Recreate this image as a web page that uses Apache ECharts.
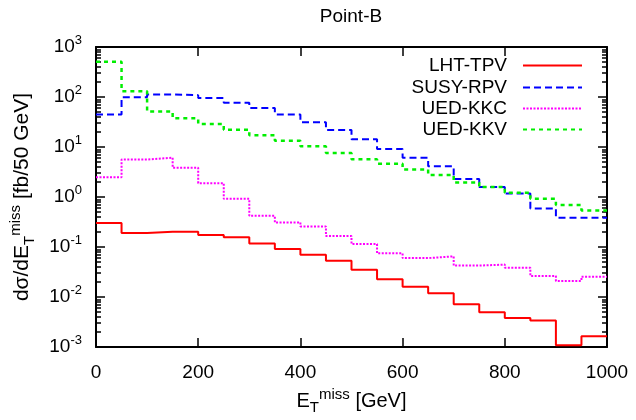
<!DOCTYPE html>
<html>
<head>
<meta charset="utf-8">
<script src="https://cdn.jsdelivr.net/npm/echarts@6/dist/echarts.min.js"></script>
<style>
  html, body { margin: 0; padding: 0; background: #fff; }
  #chart { width: 636px; height: 420px; }
</style>
</head>
<body>
<div id="chart"></div>
<script>
// bin lower edges [GeV], 50 GeV bins
const binLow = [0, 50, 100, 150, 200, 250, 300, 350, 400, 450, 500, 550, 600, 650, 700, 750, 800, 850, 900, 950]
const xMax = 1000

// dsigma/dEt [fb/50 GeV]
const lhtTpv = [0.303, 0.19, 0.202, 0.202, 0.174, 0.157, 0.118, 0.0915, 0.0698, 0.0533, 0.035, 0.0226, 0.016, 0.0119, 0.00713, 0.00497, 0.0038, 0.00337, 0.00109, 0.00164]
const susyRpv = [44.8, 99, 112, 109, 96, 77, 60.5, 44.8, 31.3, 21.8, 14.3, 9.1, 6.1, 4.1, 2.3, 1.58, 1.17, 0.59, 0.385, 0.385]
const uedKkc = [2.48, 5.6, 6.1, 3.83, 1.89, 0.92, 0.42, 0.31, 0.257, 0.166, 0.115, 0.075, 0.06, 0.065, 0.0425, 0.0445, 0.0383, 0.0263, 0.021, 0.0255]
const uedKkv = [509, 130, 51.3, 37.4, 29, 22.2, 17.2, 13.3, 10.3, 7.6, 5.7, 4.65, 3.55, 2.75, 1.95, 1.58, 1.21, 0.92, 0.69, 0.54]

const seriesNames = ['LHT-TPV', 'SUSY-RPV', 'UED-KKC', 'UED-KKV']
const xTicks = [0, 200, 400, 600, 800, 1000]

const FONT = '"Liberation Sans", Arial, Helvetica, sans-serif'

// histogram steps: left edge of each bin + closing point at the last edge
function steps(vals) {
  const pts = binLow.map((x, i) => [x, vals[i]])
  pts.push([xMax, vals[vals.length - 1]])
  return pts
}

// minor log ticks 2..9 in each decade (as log10 values)
const minorTicks = []
for (let e = -3; e < 3; e++) {
  for (let m = 2; m <= 9; m++) minorTicks.push(e + Math.log10(m))
}

function supRich(base, small) {
  return {
    b: { fontSize: base, fontFamily: FONT, color: '#000', lineHeight: base + 8, verticalAlign: 'middle' },
    s: { fontSize: small, fontFamily: FONT, color: '#000', lineHeight: 12, verticalAlign: 'top' },
    t: { fontSize: small, fontFamily: FONT, color: '#000', lineHeight: 12, verticalAlign: 'bottom' },
  }
}

const chart = echarts.init(document.getElementById('chart'), null, { renderer: 'canvas' })

function mkSeries(name, vals, color, type, width) {
  return {
    name,
    type: 'line',
    step: 'end',
    data: steps(vals),
    symbol: 'none',
    xAxisIndex: 0,
    yAxisIndex: 0,
    lineStyle: { color, width, type },
    itemStyle: { color },
    emphasis: { disabled: true },
  }
}

const styles = [
  ['#ff0000', 'solid', 2],
  ['#0000ff', [7, 4], 2],
  ['#ff00ff', [2, 1.5], 2],
  ['#00ee00', [4, 4], 2.5],
]
const legendTops = [56, 78, 99, 120]

const frameLine = { onZero: false, lineStyle: { color: '#000', width: 2 } }
const majorTick = { inside: true, length: 9, lineStyle: { color: '#000', width: 1.5 } }

chart.setOption({
  animation: false,
  title: {
    text: 'Point-B',
    left: 351,
    top: 7,
    padding: 0,
    textAlign: 'center',
    textStyle: { fontFamily: FONT, fontSize: 19, fontWeight: 'normal', color: '#000' },
  },
  legend: seriesNames.map((n, i) => ({
    data: [n],
    right: 53,
    top: legendTops[i],
    align: 'right',
    itemWidth: 59,
    itemHeight: 14,
    padding: 0,
    selectedMode: false,
    itemStyle: { opacity: 0 },
    textStyle: { fontFamily: FONT, fontSize: 19, color: '#000', padding: [0, 11, 0, 0] },
  })),
  grid: { left: 95, right: 29, top: 47, bottom: 66 },
  xAxis: [
    {
      type: 'value', position: 'bottom', min: 0, max: xMax, interval: 200,
      name: '{b|E}{t|T}{s|miss}{b| [GeV]}',
      nameLocation: 'middle', nameGap: 40,
      nameTextStyle: { rich: supRich(20, 15) },
      axisLine: frameLine,
      axisTick: majorTick,
      axisLabel: { margin: 16, fontFamily: FONT, fontSize: 19, color: '#000', formatter: v => xTicks.includes(v) ? String(v) : '' },
      splitLine: { show: false },
    },
    {
      type: 'value', position: 'top', min: 0, max: xMax, interval: 200,
      axisLine: frameLine,
      axisTick: majorTick,
      axisLabel: { show: false },
      splitLine: { show: false },
    },
  ],
  yAxis: [
    {
      type: 'log', logBase: 10, min: 0.001, max: 1000, splitNumber: 6, position: 'left',
      name: '{b|dσ/dE}{t|T}{s|miss}{b| [fb/50 GeV]}',
      nameLocation: 'middle', nameRotate: 90, nameGap: 59,
      nameTextStyle: { rich: supRich(21, 15) },
      axisLine: frameLine,
      axisTick: majorTick,
      axisLabel: {
        margin: 14,
        formatter: v => '{b|10}{s|' + Math.round(Math.log10(v)) + '}',
        rich: supRich(19, 13),
      },
      splitLine: { show: false },
    },
    {
      type: 'value', min: -3, max: 3, position: 'left',
      axisLine: { show: false, onZero: false },
      axisTick: { inside: true, length: 5, customValues: minorTicks, lineStyle: { color: '#000', width: 1.5 } },
      axisLabel: { show: false },
      splitLine: { show: false },
    },
    {
      type: 'log', logBase: 10, min: 0.001, max: 1000, splitNumber: 6, position: 'right',
      axisLine: frameLine,
      axisTick: majorTick,
      axisLabel: { show: false },
      splitLine: { show: false },
    },
    {
      type: 'value', min: -3, max: 3, position: 'right',
      axisLine: { show: false, onZero: false },
      axisTick: { inside: true, length: 5, customValues: minorTicks, lineStyle: { color: '#000', width: 1.5 } },
      axisLabel: { show: false },
      splitLine: { show: false },
    },
  ],
  series: [
    mkSeries(seriesNames[0], lhtTpv, ...styles[0]),
    mkSeries(seriesNames[1], susyRpv, ...styles[1]),
    mkSeries(seriesNames[2], uedKkc, ...styles[2]),
    mkSeries(seriesNames[3], uedKkv, ...styles[3]),
  ],
})
</script>
</body>
</html>
